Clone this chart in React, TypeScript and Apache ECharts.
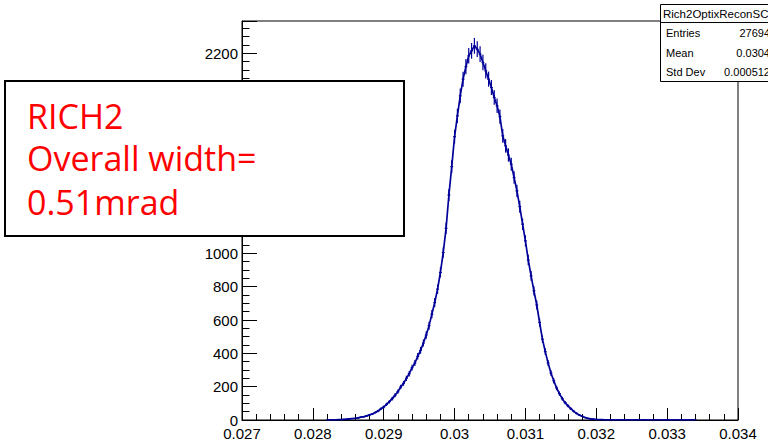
import React, { useEffect, useRef } from "react";
import * as echarts from "echarts";

// Histogram: bin centres in units of 1e-3 (x axis shows value / 1000)
const binStart = 28.2;
const binStep = 0.04;
const counts = [
  0, 1, 0, 1, 2, 2, 4, 5, 7, 9,
  10, 13, 17, 20, 25, 31, 36, 45, 54, 67,
  78, 94, 110, 128, 148, 170, 198, 220, 250, 278,
  314, 342, 382, 418, 462, 510, 566, 635, 705, 785,
  885, 1005, 1150, 1350, 1520, 1700, 1825, 1945, 2045, 2120,
  2185, 2215, 2245, 2225, 2195, 2145, 2095, 2045, 1995, 1935,
  1885, 1820, 1705, 1645, 1590, 1535, 1455, 1375, 1280, 1175,
  1075, 960, 865, 775, 690, 585, 485, 410, 342, 282,
  235, 192, 158, 128, 104, 85, 68, 53, 40, 30,
  22, 15, 10, 7, 5, 3, 2, 2, 1, 1,
  0, 1, 0, 1, 0, 0, 1, 0, 0, 1,
  0, 0, 1, 0, 0, 0, 1, 0, 0, 0,
  1, 0, 0, 0, 0, 1, 0, 0, 0, 1, 0,
];

const xTickValues = ["0.027", "0.028", "0.029", "0.03", "0.031", "0.032", "0.033", "0.034"];
const statsTitle = "Rich2OptixReconSCS";
const statsLabels = ["Entries", "Mean", "Std Dev"];
const statsValues = ["27694", "0.0304", "0.000512"];
const noteLines = ["RICH2", "Overall width=", "0.51mrad"];

const LINE = "#000099";

export default function App() {
  const ref = useRef<HTMLDivElement>(null);
  useEffect(() => {
    document.body.style.margin = "0";
    const chart = echarts.init(ref.current!, null, { renderer: "svg" });
    const data = counts.map((c, i) => [+(binStart + i * binStep).toFixed(2), c]);
    const half = binStep / 2;
    const font = "'Liberation Sans', Arial, sans-serif";
    const statRowsY = [33, 53, 72];
    const noteY = [115.5, 158, 201.5];
    chart.setOption({
      animation: false,
      backgroundColor: "#fff",
      grid: {
        left: 242,
        right: 30,
        top: 21,
        bottom: 25,
        show: true,
        borderColor: "#000",
        borderWidth: 1,
        backgroundColor: "transparent",
      },
      xAxis: {
        type: "value",
        min: 27,
        max: 34,
        interval: 1,
        splitLine: { show: false },
        axisLine: { lineStyle: { color: "#000", width: 1 } },
        axisTick: { inside: true, length: 12, lineStyle: { color: "#000" } },
        minorTick: { show: true, splitNumber: 5, length: 6, lineStyle: { color: "#000" } },
        axisLabel: {
          color: "#000",
          fontSize: 15,
          fontFamily: font,
          margin: 6,
          formatter: (v: number) => xTickValues[Math.round(v) - 27] ?? "",
        },
      },
      yAxis: {
        type: "value",
        min: 0,
        max: 2394,
        interval: 200,
        splitLine: { show: false },
        axisLine: { show: true, lineStyle: { color: "#000", width: 1 } },
        axisTick: { show: true, inside: true, length: 15, lineStyle: { color: "#000" } },
        minorTick: { show: true, splitNumber: 4, length: 7.5, lineStyle: { color: "#000" } },
        axisLabel: {
          color: "#000",
          fontSize: 15,
          fontFamily: font,
          margin: 4,
          showMaxLabel: false,
          formatter: (v: number) => String(v),
        },
      },
      series: [
        {
          type: "line",
          data,
          symbol: "none",
          lineStyle: { color: LINE, width: 1.7 },
          z: 3,
        },
        {
          type: "custom",
          data,
          z: 4,
          clip: true,
          renderItem: (params: any, api: any) => {
            const x = api.value(0);
            const y = api.value(1);
            const e = Math.sqrt(y);
            const top = api.coord([x, y + e]);
            const bot = api.coord([x, y - e]);
            const l = api.coord([x - half, y]);
            const r = api.coord([x + half, y]);
            return {
              type: "group",
              children: [
                {
                  type: "line",
                  shape: { x1: top[0], y1: top[1], x2: bot[0], y2: bot[1] },
                  style: { stroke: LINE, lineWidth: 1.2 },
                },
                {
                  type: "line",
                  shape: { x1: l[0], y1: l[1], x2: r[0], y2: r[1] },
                  style: { stroke: LINE, lineWidth: 1.2 },
                },
              ],
            };
          },
        },
      ],
      graphic: [
        {
          type: "rect",
          z: 100,
          shape: { x: 660.5, y: 4.5, width: 140, height: 77 },
          style: { fill: "#fff", stroke: "#000", lineWidth: 1 },
        },
        {
          type: "line",
          z: 101,
          shape: { x1: 660.5, y1: 22.5, x2: 800, y2: 22.5 },
          style: { stroke: "#000", lineWidth: 1 },
        },
        {
          type: "text",
          z: 101,
          x: 663,
          y: 13.5,
          style: {
            text: statsTitle,
            font: `11.5px ${font}`,
            fill: "#000",
            verticalAlign: "middle",
            align: "left",
          },
        },
        ...statsLabels.map((t, i) => ({
          type: "text",
          z: 101,
          x: 666,
          y: statRowsY[i],
          style: { text: t, font: `11px ${font}`, fill: "#000", verticalAlign: "middle", align: "left" },
        })),
        ...statsValues.map((t, i) => ({
          type: "text",
          z: 101,
          x: 770,
          y: statRowsY[i],
          style: { text: t, font: `11px ${font}`, fill: "#000", verticalAlign: "middle", align: "right" },
        })),
        {
          type: "rect",
          z: 110,
          shape: { x: 5, y: 81, width: 399, height: 155 },
          style: { fill: "#fff", stroke: "#000", lineWidth: 2 },
        },
        ...noteLines.map((t, i) => ({
          type: "text",
          z: 111,
          x: 27,
          y: noteY[i],
          style: {
            text: t,
            font: `34px 'Open Sans', sans-serif`,
            fill: "#ff0000",
            verticalAlign: "middle",
            align: "left",
          },
        })),
      ],
    });
    return () => chart.dispose();
  }, []);
  return <div ref={ref} style={{ width: 768, height: 445 }} />;
}
